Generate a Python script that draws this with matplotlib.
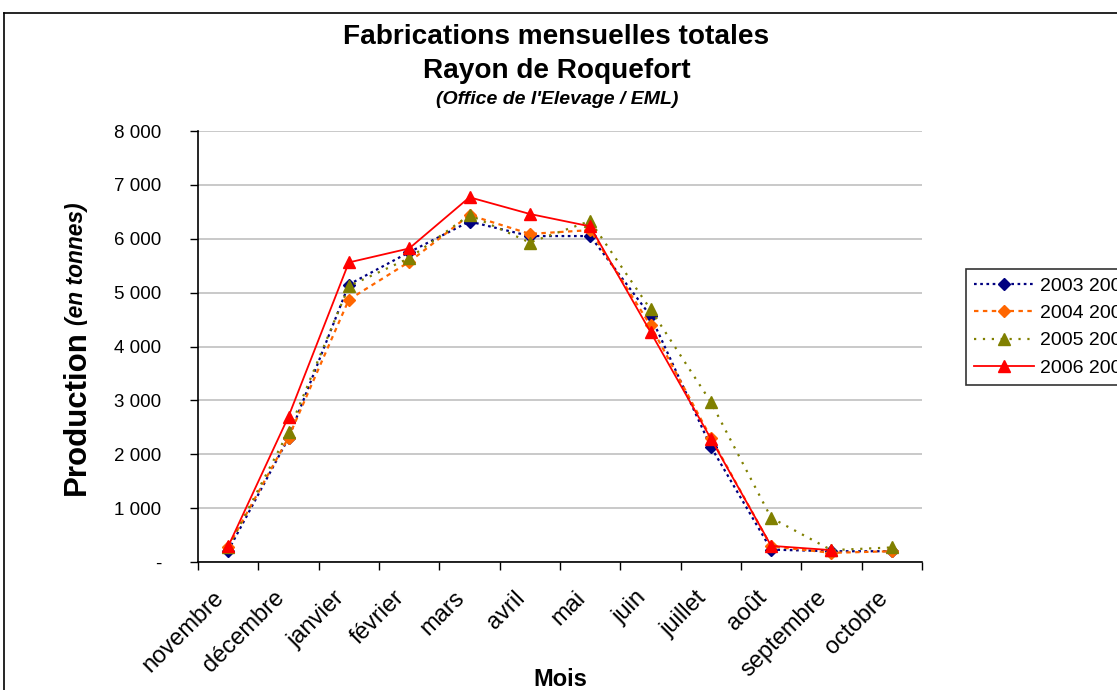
import matplotlib
matplotlib.use("Agg")
import matplotlib.pyplot as plt
from matplotlib.lines import Line2D
from matplotlib.ticker import FuncFormatter, FixedLocator

plt.rcParams["font.family"] = ["Liberation Sans", "DejaVu Sans"]

# Data (tonnes)
months = ["novembre", "décembre", "janvier", "février", "mars", "avril",
          "mai", "juin", "juillet", "août", "septembre", "octobre"]
s_2003_2004 = [210, 2300, 5150, 5750, 6320, 6050, 6050, 4570, 2140, 230, 200, 200]
s_2004_2005 = [280, 2310, 4870, 5570, 6440, 6090, 6160, 4390, 2310, 290, 170, 200]
s_2005_2006 = [270, 2420, 5120, 5640, 6440, 5930, 6330, 4690, 2970, 820, 220, 270]
s_2006_2007 = [290, 2700, 5560, 5820, 6770, 6460, 6230, 4270, 2290, 300, 220]
series_labels = ["2003 2004", "2004 2005", "2005 2006", "2006 2007"]
y_ticks = [0, 1000, 2000, 3000, 4000, 5000, 6000, 7000, 8000]

fig = plt.figure(figsize=(11.17, 6.9), dpi=100)
ax = fig.add_axes([198 / 1117, 1 - 562 / 690, (922 - 198) / 1117, (562 - 131) / 690])

x = list(range(len(months)))
ax.plot(x, s_2003_2004, color="#000080", ls=(0, (1.2, 1.6)), lw=1.6,
        marker="D", ms=6.5, label=series_labels[0], zorder=3)
ax.plot(x, s_2004_2005, color="#FF6600", ls=(0, (2, 2)), lw=1.6,
        marker="D", ms=6.5, label=series_labels[1], zorder=3)
ax.plot(x, s_2005_2006, color="#808000", ls=(0, (1, 3)), lw=1.6,
        marker="^", ms=8.5, label=series_labels[2], zorder=3)
ax.plot(x[:len(s_2006_2007)], s_2006_2007, color="#FF0000", ls="-", lw=1.3,
        marker="^", ms=8.5, label=series_labels[3], zorder=4)

ax.set_xlim(-0.5, len(months) - 0.5)
ax.set_ylim(0, 8000)
ax.set_yticks(y_ticks)
ax.yaxis.set_major_formatter(FuncFormatter(
    lambda v, p: "-" if v == 0 else f"{int(v):,}".replace(",", " ")))
ax.grid(axis="y", color="#c0c0c0", lw=1.2)
ax.set_axisbelow(True)

ax.set_xticks(x)
ax.set_xticklabels(months, rotation=45, ha="right", va="bottom",
                   rotation_mode="anchor", fontsize=17)
ax.xaxis.set_minor_locator(FixedLocator([i - 0.5 for i in range(len(months) + 1)]))
ax.tick_params(axis="x", which="major", length=0, pad=29)
ax.tick_params(axis="x", which="minor", length=6, width=1, direction="out")
ax.tick_params(axis="y", length=6, width=1, direction="out", pad=20.5, labelsize=13.5)

for side in ["top", "right"]:
    ax.spines[side].set_visible(False)
for side in ["left", "bottom"]:
    ax.spines[side].set_linewidth(1.2)

# titles
fig.text(556 / 1117, 1 - 37 / 690, "Fabrications mensuelles totales",
         ha="center", va="center", fontsize=20.2, fontweight="bold")
fig.text(557 / 1117, 1 - 71 / 690, "Rayon de Roquefort",
         ha="center", va="center", fontsize=20.2, fontweight="bold")
fig.text(557 / 1117, 1 - 99 / 690, "(Office de l'Elevage / EML)",
         ha="center", va="center", fontsize=14, fontweight="bold", style="italic")

# y label in two parts
fig.text(77 / 1117, 1 - 413 / 690, "Production", rotation=90,
         ha="center", va="center", fontsize=22.5, fontweight="bold")
fig.text(77 / 1117, 1 - 264 / 690, "(en tonnes)", rotation=90,
         ha="center", va="center", fontsize=16.4, fontweight="bold", style="italic")

fig.text(560 / 1117, 1 - 679 / 690, "Mois", ha="center", va="center",
         fontsize=17, fontweight="bold")

# legend runs past the right edge, as in the reference
leg = fig.legend(loc="upper left", bbox_to_anchor=(966 / 1117, 1 - 269 / 690),
                 fontsize=14, frameon=True, fancybox=False, edgecolor="black",
                 handlelength=3.1, labelspacing=0.5, borderpad=0.42,
                 handletextpad=0.3, borderaxespad=0)
leg.get_frame().set_linewidth(1.2)

# outer chart frame (cropped at right and bottom)
fig.add_artist(Line2D([4 / 1117, 4 / 1117], [0, 1 - 13 / 690], color="black", lw=1.2))
fig.add_artist(Line2D([4 / 1117, 1], [1 - 13 / 690, 1 - 13 / 690], color="black", lw=1.2))

fig.savefig("out.png", dpi=100)
